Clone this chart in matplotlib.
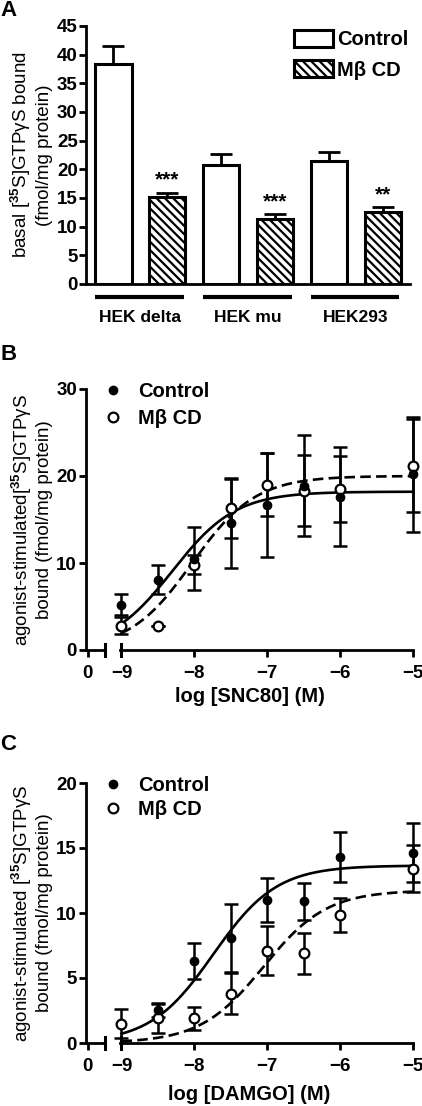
import matplotlib
matplotlib.use('Agg')
import matplotlib.pyplot as plt
import matplotlib.transforms as mtransforms
import numpy as np

# fonts: bold Arial-like everywhere
plt.rcParams['font.family'] = ['Liberation Sans', 'DejaVu Sans']
plt.rcParams['font.weight'] = 'bold'
plt.rcParams['mathtext.fontset'] = 'custom'
plt.rcParams['mathtext.rm'] = 'Liberation Sans:bold'
plt.rcParams['mathtext.bf'] = 'Liberation Sans:bold'
plt.rcParams['mathtext.it'] = 'Liberation Sans:bold'
plt.rcParams['mathtext.default'] = 'rm'
plt.rcParams['axes.linewidth'] = 2
plt.rcParams['hatch.linewidth'] = 1.6

# ---- panel A data: basal binding ----
groups = ['HEK delta', 'HEK mu', 'HEK293']
a_ctrl = [38.3, 20.7, 21.5]
a_ctrl_sem = [3.2, 2.0, 1.5]
a_mbcd = [15.1, 11.4, 12.5]
a_mbcd_sem = [0.8, 0.75, 0.85]
a_stars = ['***', '***', '**']

# ---- panel B data: SNC80 ----
b_logx = [-9, -8.5, -8, -7.5, -7, -6.5, -6, -5]
b_ctrl = [5.2, 8.1, 10.5, 14.6, 16.7, 18.9, 17.6, 20.2]
b_ctrl_sem = [1.2, 1.65, 3.6, 5.2, 6.0, 5.8, 5.7, 6.6]
b_mbcd = [2.8, 2.8, 9.8, 16.3, 19.0, 18.3, 18.5, 21.2]
b_mbcd_sem = [1.0, 0.0, 1.1, 3.4, 3.6, 4.1, 3.8, 5.3]
# sigmoid fits (top, logEC50), bottom 0, hill 1
b_ctrl_fit = (18.2, -8.3)
b_mbcd_fit = (20.0, -8.03)

# ---- panel C data: DAMGO ----
c_logx = [-9, -8.5, -8, -7.5, -7, -6.5, -6, -5]
c_ctrl = [np.nan, 2.55, 6.3, 8.1, 11.0, 10.9, 14.3, 14.65]
c_ctrl_sem = [np.nan, 0.55, 1.4, 2.6, 1.7, 1.4, 1.9, 2.3]
c_mbcd = [1.5, 1.9, 1.9, 3.8, 7.1, 6.9, 9.85, 13.4]
c_mbcd_sem = [1.1, 1.1, 0.9, 1.6, 1.9, 1.6, 1.3, 1.8]
c_ctrl_fit = (13.65, -7.74)
c_mbcd_fit = (11.75, -7.05)

W, H = 422, 1106
fig = plt.figure(figsize=(W / 100, H / 100), dpi=100)


def rect(l, t, r, b):
    # pixel box -> figure fraction
    return [l / W, 1 - b / H, (r - l) / W, (b - t) / H]


def sigmoid(x, top, logec50):
    return top / (1 + 10 ** (logec50 - x))


ylab_basal = 'basal [$^{35}$S]GTPγS bound\n(fmol/mg protein)'

# ================= Panel A =================
ax = fig.add_axes(rect(86, 26, 410, 284))
pos = np.arange(1, 7)
ctrl_pos = pos[0::2]
mbcd_pos = pos[1::2]
bw = 0.67
ax.bar(ctrl_pos, a_ctrl, width=bw, color='white', edgecolor='black', linewidth=2.2,
       label='Control', zorder=2)
ax.bar(mbcd_pos, a_mbcd, width=bw, color='white', edgecolor='black', linewidth=2.2,
       hatch='\\\\\\\\', label='Mβ CD', zorder=2)
ax.errorbar(ctrl_pos, a_ctrl, yerr=[np.zeros(3), a_ctrl_sem], fmt='none', ecolor='black',
            elinewidth=2, capsize=8, capthick=2, zorder=1)
ax.errorbar(mbcd_pos, a_mbcd, yerr=[np.zeros(3), a_mbcd_sem], fmt='none', ecolor='black',
            elinewidth=2, capsize=8, capthick=2, zorder=1)
for p, m, s, st in zip(mbcd_pos, a_mbcd, a_mbcd_sem, a_stars):
    ax.annotate(st, (p, m + s), xytext=(0, 9), textcoords='offset points',
                ha='center', va='center', fontsize=15)

ax.set_xlim(0.49, 6.5)
ax.set_ylim(0, 45)
ax.set_yticks(np.arange(0, 46, 5))
ax.set_xticks([])
ax.spines['top'].set_visible(False)
ax.spines['right'].set_visible(False)
ax.tick_params(axis='y', direction='out', length=5, width=2, labelsize=13.5, pad=1)
ax.set_ylabel(ylab_basal, fontsize=13.5, labelpad=3)

# group underlines + labels
btrans = mtransforms.blended_transform_factory(ax.transData, ax.transAxes)
for i, g in enumerate(groups):
    x0 = ctrl_pos[i] - bw / 2
    x1 = mbcd_pos[i] + bw / 2 - 0.03
    ax.plot([x0, x1], [-0.05, -0.05], color='black', lw=3, transform=btrans,
            clip_on=False, solid_capstyle='butt')
    ax.text((x0 + x1) / 2, -0.128, g, transform=btrans, ha='center', va='center',
            fontsize=12.5)

ax.legend(loc='upper right', bbox_to_anchor=(0.995, 0.985), frameon=False, fontsize=14.5,
          handlelength=1.95, handleheight=0.9, handletextpad=0.2, labelspacing=0.55,
          borderpad=0, borderaxespad=0)

fig.text(0 / W, 1 - 0 / H, 'A', fontsize=16, ha='left', va='top')


# ================= Panels B and C =================
def curve_panel(top_px, bot_px, logx, ctrl, ctrl_sem, mbcd, mbcd_sem, ctrl_fit, mbcd_fit,
                ymax, ystep, ylabel, xlabel, leg_top, leg_spacing, letter, letter_y, xlab_y):
    ax_l = fig.add_axes(rect(86, top_px, 105, bot_px))
    ax_r = fig.add_axes(rect(120, top_px, 413, bot_px), sharey=ax_l)
    for a in (ax_l, ax_r):
        a.spines['top'].set_visible(False)
        a.spines['right'].set_visible(False)
        a.patch.set_alpha(0)
    ax_r.spines['left'].set_visible(False)
    ax_l.set_ylim(0, ymax)
    ax_l.set_yticks(np.arange(0, ymax + 0.1, ystep))
    ax_l.set_xlim(-0.1, 0.9)
    ax_l.set_xticks([0])
    ax_r.set_xlim(-9.02, -5.0)
    ax_r.set_xticks([-9, -8, -7, -6, -5])
    ax_r.tick_params(axis='y', left=False, labelleft=False)
    for a in (ax_l, ax_r):
        a.tick_params(direction='out', length=5, width=2, labelsize=13.5, pad=1.5)
        a.tick_params(axis='x', pad=6)
    # axis break bars
    ax_l.plot([1, 1], [-0.022, 0.022], color='black', lw=2.2, transform=ax_l.transAxes,
              clip_on=False)
    tr = mtransforms.blended_transform_factory(ax_r.transData, ax_r.transAxes)
    ax_r.plot([-9, -9], [-0.022, 0.022], color='black', lw=2.2, transform=tr, clip_on=False)

    xf = np.linspace(-9, -5, 300)
    ax_r.plot(xf, sigmoid(xf, *ctrl_fit), color='black', lw=1.9, zorder=3, clip_on=False)
    dl, = ax_r.plot(xf, sigmoid(xf, *mbcd_fit), color='black', lw=1.9, zorder=3, clip_on=False)
    dl.set_dashes([4, 2])

    ax_r.errorbar(logx, ctrl, yerr=ctrl_sem, fmt='none', ecolor='black', elinewidth=1.8,
                  capsize=5, capthick=1.8, zorder=4, clip_on=False)
    ax_r.errorbar(logx, mbcd, yerr=mbcd_sem, fmt='none', ecolor='black', elinewidth=1.8,
                  capsize=5, capthick=1.8, zorder=4, clip_on=False)
    ax_r.plot(logx, mbcd, 'o', ms=7, mfc='white', mec='black', mew=1.6, ls='none',
              zorder=5, clip_on=False, label='Mβ CD')
    ax_r.plot(logx, ctrl, 'o', ms=6, mfc='black', mec='black', ls='none',
              zorder=6, clip_on=False, label='Control')

    h, lab = ax_r.get_legend_handles_labels()
    fig.legend(h[::-1], lab[::-1], loc='upper left',
               bbox_to_anchor=(103 / W, 1 - leg_top / H), bbox_transform=fig.transFigure,
               frameon=False, fontsize=14.5, handlelength=1.0, handletextpad=0.75,
               labelspacing=leg_spacing, borderpad=0, borderaxespad=0, numpoints=1)

    ax_l.set_ylabel(ylabel, fontsize=13.5, labelpad=2)
    fig.text((86 + 413) / 2 / W, 1 - xlab_y / H, xlabel, fontsize=14.5, ha='center',
             va='center')
    fig.text(0 / W, 1 - letter_y / H, letter, fontsize=16, ha='left', va='center')


curve_panel(389, 650, b_logx, b_ctrl, b_ctrl_sem, b_mbcd, b_mbcd_sem, b_ctrl_fit, b_mbcd_fit,
            30, 10, 'agonist-stimulated[$^{35}$S]GTPγS\nbound (fmol/mg protein)',
            'log [SNC80] (M)', 382, 0.4, 'B', 355, 697)

curve_panel(783, 1043, c_logx, c_ctrl, c_ctrl_sem, c_mbcd, c_mbcd_sem, c_ctrl_fit, c_mbcd_fit,
            20, 5, 'agonist-stimulated [$^{35}$S]GTPγS\nbound (fmol/mg protein)',
            'log [DAMGO] (M)', 776, 0.25, 'C', 745, 1095)

fig.savefig('out.png', dpi=100)
